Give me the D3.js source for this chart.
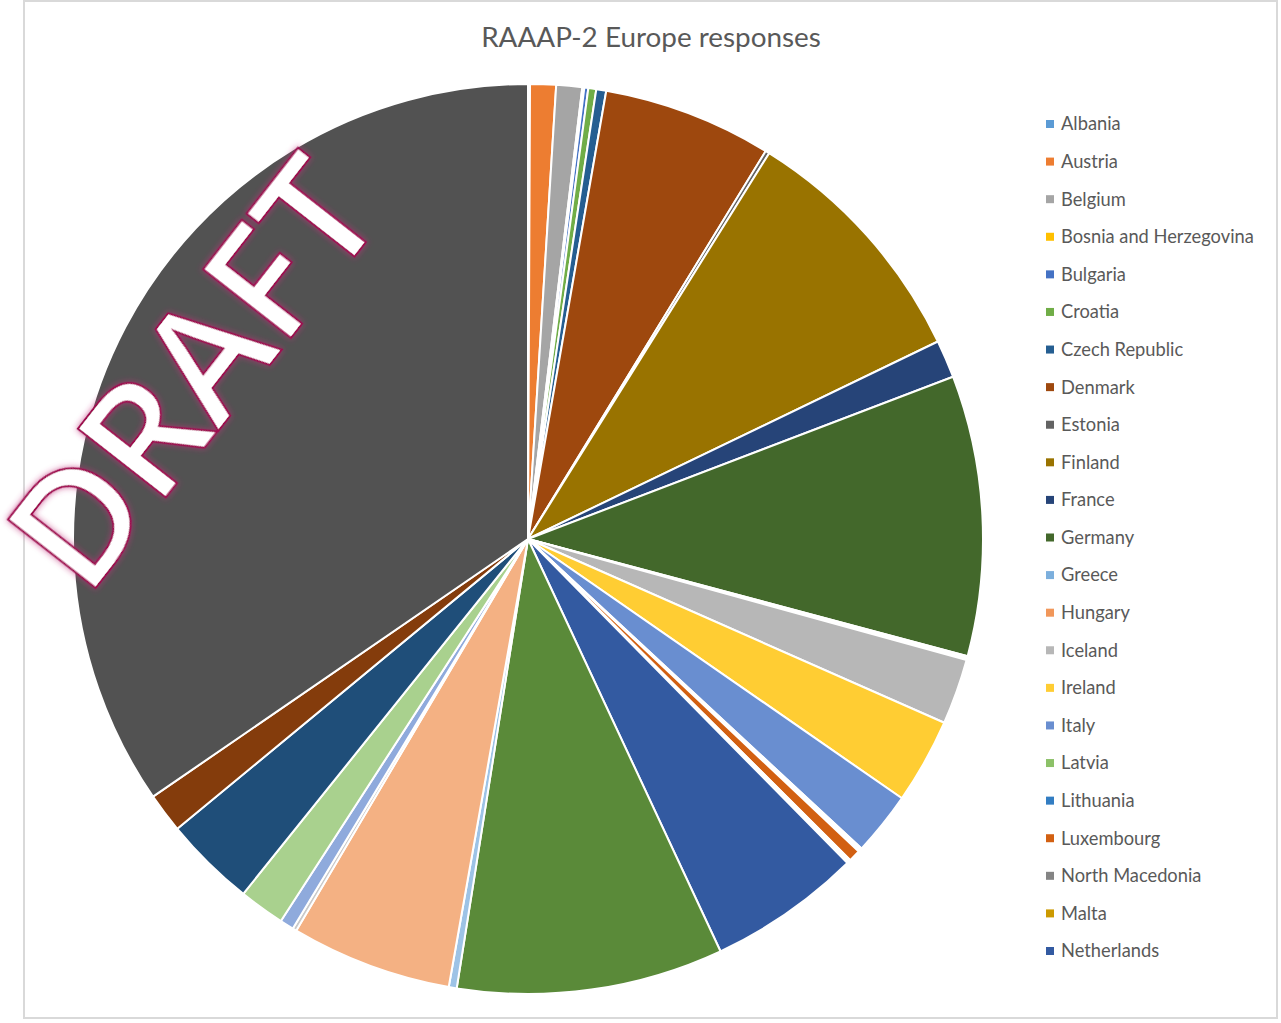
<!DOCTYPE html>
<html>
<head>
<meta charset="utf-8">
<script src="https://cdn.jsdelivr.net/npm/d3@7"></script>
<style>
  html, body { margin: 0; padding: 0; background: #fff; }
  svg { display: block; }
</style>
</head>
<body>
<svg id="chart" width="1281" height="1023"></svg>
<script>
// Survey responses per country (RAAAP-2, Europe)
const countries = [
  "Albania", "Austria", "Belgium", "Bosnia and Herzegovina", "Bulgaria",
  "Croatia", "Czech Republic", "Denmark", "Estonia", "Finland", "France",
  "Germany", "Greece", "Hungary", "Iceland", "Ireland", "Italy", "Latvia",
  "Lithuania", "Luxembourg", "North Macedonia", "Malta", "Netherlands",
  "Norway", "Poland", "Portugal", "Romania", "Slovakia", "Slovenia",
  "Spain", "Sweden", "United Kingdom"
];
const responses = [
  1, 13, 13, 1, 2,
  4, 5, 85, 2, 127, 19,
  141, 1, 1, 33, 43, 32, 1,
  1, 6, 1, 1, 77,
  134, 4, 81, 2, 7, 23,
  46, 20, 490
];
// Office-style series palette
const sliceColors = [
  "#5B9BD5", "#ED7D31", "#A5A5A5", "#FFC000", "#4472C4",
  "#70AD47", "#255E91", "#9E480E", "#636363", "#997300", "#264478",
  "#43682B", "#7CAFDD", "#F1975A", "#B7B7B7", "#FFCD33", "#698ED0", "#8CC168",
  "#327DC2", "#D26012", "#848484", "#CC9A00", "#335AA1",
  "#5A8A39", "#9DC3E6", "#F4B183", "#C9C9C9", "#8FAADC", "#A9D18E",
  "#1F4E79", "#843C0C", "#525252"
];
const chartTitle = "RAAAP-2 Europe responses";
const watermark = "DRAFT";

const data = countries.map((c, i) => ({ country: c, value: responses[i], color: sliceColors[i] }));

const svg = d3.select("#chart");

// chart frame
svg.append("rect")
  .attr("x", 24).attr("y", 1).attr("width", 1253).attr("height", 1017)
  .attr("fill", "#fff").attr("stroke", "#d9d9d9").attr("stroke-width", 2);

// title
const title = svg.append("text")
  .attr("x", 651).attr("y", 47)
  .attr("text-anchor", "middle")
  .attr("font-family", "Lato, 'Open Sans', sans-serif")
  .attr("font-size", 26)
  .attr("fill", "#595959")
  .text(chartTitle);
{
  const w = title.node().getComputedTextLength();
  title.attr("font-size", 26 * 340 / w);
}

// pie, clockwise from 12 o'clock in data order
const cx = 528, cy = 539, R = 455;
const pie = d3.pie().value(d => d.value).sort(null).startAngle(0).endAngle(2 * Math.PI);
const arc = d3.arc().innerRadius(0).outerRadius(R);

svg.append("g")
  .attr("transform", `translate(${cx},${cy})`)
  .selectAll("path")
  .data(pie(data))
  .join("path")
  .attr("d", arc)
  .attr("fill", d => d.data.color)
  .attr("stroke", "#fff")
  .attr("stroke-width", 2)
  .attr("stroke-linejoin", "round");

// legend (only the entries that fit the legend area are shown)
const legendRows = 23;
const legendY = d3.scaleLinear().domain([0, legendRows - 1]).range([124, 951]);
const lg = svg.append("g").attr("font-family", "Lato, 'Open Sans', sans-serif").attr("fill", "#595959");
const items = lg.selectAll("g").data(data.slice(0, legendRows)).join("g")
  .attr("transform", (d, i) => `translate(0,${legendY(i)})`);
items.append("rect")
  .attr("x", 1046).attr("y", -4).attr("width", 8).attr("height", 8)
  .attr("fill", d => d.color);
const labels = items.append("text")
  .attr("x", 1061).attr("y", 0).attr("dy", "0.35em")
  .attr("font-size", 18)
  .text(d => d.country);
{
  const ref = labels.filter(d => d.country === "Bosnia and Herzegovina").node();
  const w = ref.getComputedTextLength();
  labels.attr("font-size", 18 * 193 / w);
}

// watermark with a soft magenta glow
const defs = svg.append("defs");
const glow = defs.append("filter").attr("id", "glow")
  .attr("x", "-20%").attr("y", "-20%").attr("width", "140%").attr("height", "140%");
glow.append("feGaussianBlur").attr("in", "SourceAlpha").attr("stdDeviation", 3).attr("result", "b");
glow.append("feFlood").attr("flood-color", "#C0307A").attr("flood-opacity", 0.75);
glow.append("feComposite").attr("in2", "b").attr("operator", "in").attr("result", "g");
const fm = glow.append("feMerge");
fm.append("feMergeNode").attr("in", "g");
fm.append("feMergeNode").attr("in", "SourceGraphic");

svg.append("text")
  .attr("transform", "translate(237,407) rotate(-52)")
  .attr("text-anchor", "middle")
  .attr("font-family", "'Open Sans', sans-serif")
  .attr("font-weight", 600)
  .attr("font-size", 156)
  .attr("fill", "#fff")
  .attr("stroke", "#9E0B4F")
  .attr("stroke-width", 2)
  .attr("filter", "url(#glow)")
  .text(watermark);
</script>
</body>
</html>
